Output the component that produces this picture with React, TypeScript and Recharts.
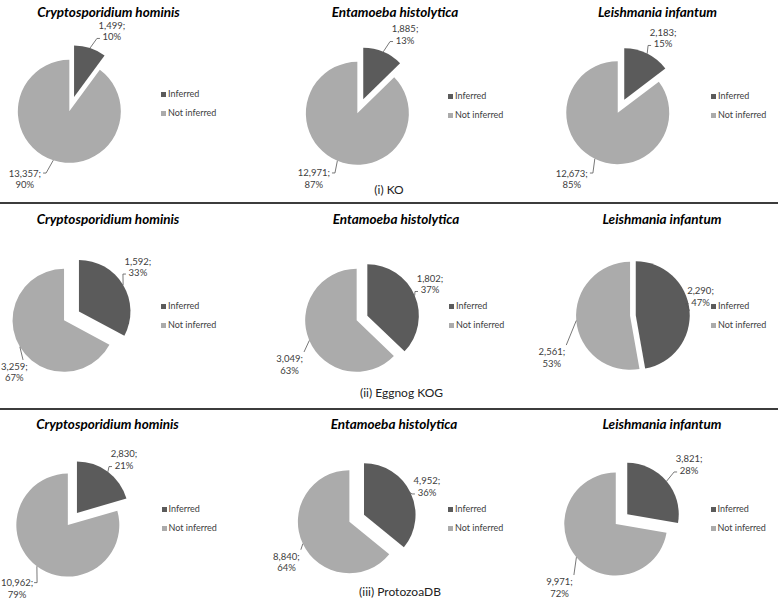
import { PieChart, Pie, Cell, Legend } from 'recharts';

const species = ['Cryptosporidium hominis', 'Entamoeba histolytica', 'Leishmania infantum'];
const sections = ['(i) KO', '(ii) Eggnog KOG', '(iii) ProtozoaDB'];
const sliceNames = ['Inferred', 'Not inferred'];

const koInferred = [1499, 1885, 2183];
const koNotInferred = [13357, 12971, 12673];
const kogInferred = [1592, 1802, 2290];
const kogNotInferred = [3259, 3049, 2561];
const protozoaInferred = [2830, 4952, 3821];
const protozoaNotInferred = [10962, 8840, 9971];

const rowsInferred = [koInferred, kogInferred, protozoaInferred];
const rowsNotInferred = [koNotInferred, kogNotInferred, protozoaNotInferred];

const COLORS = ['#5b5b5b', '#ababab'];
const TEXT = '#404040';
const FONT = 'Lato, "Liberation Sans", sans-serif';
const RAD = Math.PI / 180;

// layout, page coordinates
const colLeft = [0, 259, 519];
const rowTop = [0, 204, 410];
const rowHeight = [204, 206, 198];
const pieCenter = [
  [[71.7, 104.1], [360.3, 106.3], [621, 106.2]],
  [[71.5, 315.9], [362, 318], [632.9, 315.6]],
  [[72.4, 519], [356.7, 518.2], [621.5, 519.2]],
];
const explode = [
  [7.6, 7.6, 7.3],
  [8.7, 5.8, 2.85],
  [7.6, 8.1, 7.5],
];
const radius = [
  [51.5, 51.5, 51.5],
  [51.5, 51.5, 54],
  [51.5, 51.5, 51.5],
];
// leader end relative to the slice's outer midpoint: [inferred, not inferred]
const leaders = [
  [[[9.8, -9.5], [-10.2, 12.8]], [[9.8, -10.3], [-5.4, 12.2]], [[3.9, -8.1], [-4.9, 14.2]]],
  [[[2.8, -10.9], [3.2, 13.1]], [[3.3, -4], [-5.3, 11.5]], [[-1, -7], [-10, 24.5]]],
  [[[4.1, -5.2], [-2.8, 16.4]], [[4.4, 1.3], [-2, 6]], [[10.5, -9.2], [-2.5, 17.8]]],
];
// not-inferred label hangs under its leader instead of beside it
const lightBelow = [
  [false, false, false],
  [true, true, true],
  [false, true, true],
];
const legendPos = [
  [[161, 94], [448, 96], [711, 96]],
  [[161, 306.5], [449, 306], [711, 306.5]],
  [[161.5, 509], [448, 509], [710.5, 509]],
];
const titlePos = [
  [[108.5, 12], [395, 12], [657.5, 12]],
  [[108, 218.5], [396, 218.5], [662, 218.5]],
  [[107.5, 424], [394, 424], [662, 424]],
];
const sectionPos = [[389, 190], [401.5, 393], [400, 591.5]];
const dividerY = [202, 408];

const LABEL_FS = 9.5;

const textWidth = (s: string, fs: number) =>
  s.split('').reduce((w, ch) => w + (/[0-9]/.test(ch) ? 0.58 : ch === '%' ? 0.85 : 0.25) * fs, 0);

// mid angle of slice idx, clockwise from 12 o'clock
const midFromTop = (values: number[], idx: number) => {
  const total = values.reduce((a, b) => a + b, 0);
  let start = 0;
  for (let i = 0; i < idx; i++) start += values[i];
  return ((start + values[idx] / 2) / total) * 360;
};

const makeLabel = (visible: number, lead: number[], below: boolean, cellLeft: number) => (props: any) => {
  const { cx, cy, midAngle, outerRadius, value, percent, index } = props;
  if (index !== visible) return <g />;
  const a = -midAngle * RAD;
  const x0 = cx + outerRadius * Math.cos(a);
  const y0 = cy + outerRadius * Math.sin(a);
  const x1 = x0 + lead[0];
  const y1 = y0 + lead[1];
  const line1 = `${Number(value).toLocaleString('en-US')};`;
  const line2 = `${Math.round(percent * 100)}%`;
  const w1 = textWidth(line1, LABEL_FS);
  let tx: number;
  let ty: number;
  let knee: number[];
  if (visible === 0) {
    tx = x1 + 12;
    ty = y1 - 9.5;
    knee = [x1 - 3, y1];
  } else if (below) {
    tx = x1 - 1 - w1 / 2;
    ty = y1 + 10;
    knee = [x1, y1];
  } else {
    tx = x1 - 2 - w1 / 2;
    ty = y1 + 3.5;
    knee = [x1 + 3, y1];
  }
  // keep the text inside the page
  tx = Math.max(tx, w1 / 2 + 1 - cellLeft);
  return (
    <g>
      <polyline
        points={`${x0},${y0} ${knee[0]},${knee[1]} ${x1},${y1}`}
        fill="none"
        stroke="#555"
        strokeWidth={0.8}
      />
      <text x={tx} y={ty} textAnchor="middle" fontSize={LABEL_FS} fill={TEXT} fontFamily={FONT}>
        {line1}
      </text>
      <text x={tx} y={ty + 11.5} textAnchor="middle" fontSize={LABEL_FS} fill={TEXT} fontFamily={FONT}>
        {line2}
      </text>
    </g>
  );
};

const LegendBox = () => (
  <div style={{ fontFamily: FONT, fontSize: 9, color: TEXT, lineHeight: '18.5px', whiteSpace: 'nowrap' }}>
    {sliceNames.map((n, i) => (
      <div key={n}>
        <span
          style={{
            display: 'inline-block',
            width: 5,
            height: 5,
            background: COLORS[i],
            marginRight: 2,
            verticalAlign: 'middle',
          }}
        />
        <span style={{ verticalAlign: 'middle' }}>{n}</span>
      </div>
    ))}
  </div>
);

const SpeciesPie = ({ row, col }: { row: number; col: number }) => {
  const values = [rowsInferred[row][col], rowsNotInferred[row][col]];
  const data = sliceNames.map((name, i) => ({ name, value: values[i] }));
  const left = colLeft[col];
  const top = rowTop[row];
  const [pcx, pcy] = pieCenter[row][col];
  const r = radius[row][col];

  return (
    <div style={{ position: 'absolute', left, top }}>
      <PieChart width={259} height={rowHeight[row]} margin={{ top: 0, right: 0, bottom: 0, left: 0 }}>
        {data.map((d, k) => {
          const m = midFromTop(values, k) * RAD;
          const dx = explode[row][col] * Math.sin(m);
          const dy = -explode[row][col] * Math.cos(m);
          return (
            <Pie
              key={d.name}
              data={data}
              dataKey="value"
              nameKey="name"
              cx={pcx - left + dx}
              cy={pcy - top + dy}
              outerRadius={r}
              startAngle={90}
              endAngle={-270}
              stroke="none"
              labelLine={false}
              label={makeLabel(k, leaders[row][col][k], lightBelow[row][col], left)}
              isAnimationActive={false}
            >
              {data.map((c, i) => (
                <Cell key={c.name} fill={i === k ? COLORS[i] : 'none'} />
              ))}
            </Pie>
          );
        })}
        <Legend
          content={() => <LegendBox />}
          wrapperStyle={{
            left: legendPos[row][col][0] - left,
            top: legendPos[row][col][1] - top - 9.25,
            bottom: 'auto',
            width: 'auto',
          }}
        />
      </PieChart>
    </div>
  );
};

const App = () => (
  <div
    style={{
      position: 'absolute',
      left: 0,
      top: 0,
      width: 778,
      height: 608,
      background: '#fff',
      fontFamily: FONT,
      overflow: 'hidden',
    }}
  >
    {[0, 1, 2].map(row =>
      [0, 1, 2].map(col => <SpeciesPie key={`${row}-${col}`} row={row} col={col} />),
    )}
    {[0, 1, 2].map(row =>
      species.map((s, col) => (
        <div
          key={`t-${row}-${col}`}
          style={{
            position: 'absolute',
            left: titlePos[row][col][0] - 120,
            top: titlePos[row][col][1] - 8,
            width: 240,
            lineHeight: '16px',
            textAlign: 'center',
            fontSize: 13.5,
            fontWeight: 700,
            fontStyle: 'italic',
            color: '#000',
          }}
        >
          {s}
        </div>
      )),
    )}
    {sections.map((s, i) => (
      <div
        key={s}
        style={{
          position: 'absolute',
          left: sectionPos[i][0] - 100,
          top: sectionPos[i][1] - 8,
          width: 200,
          lineHeight: '16px',
          textAlign: 'center',
          fontSize: 12,
          color: '#222',
        }}
      >
        {s}
      </div>
    ))}
    {dividerY.map(y => (
      <div key={y} style={{ position: 'absolute', left: 0, top: y, width: 778, height: 2, background: '#3c3c3c' }} />
    ))}
  </div>
);

export default App;
